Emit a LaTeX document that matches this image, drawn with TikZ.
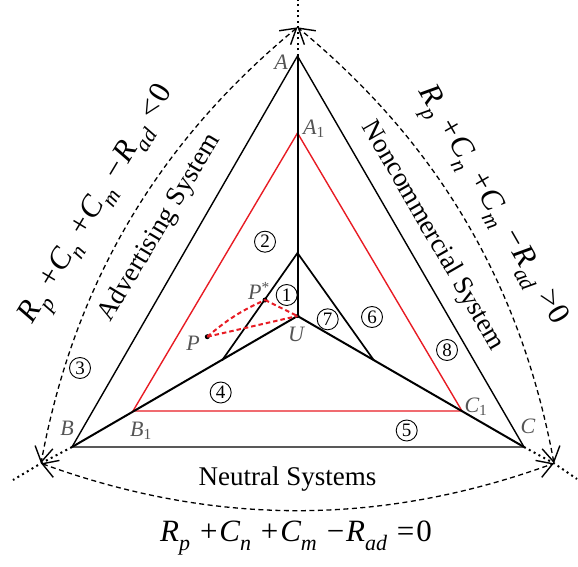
\documentclass[tikz,border=0pt]{standalone}
\usepackage{fontspec}
\setmainfont{Liberation Serif}
\usetikzlibrary{arrows.meta}
\definecolor{myred}{RGB}{232,28,36}
\definecolor{lab}{RGB}{85,85,85}
\newcommand\esub[1]{\raisebox{-0.3em}{\fontsize{22}{22}\selectfont\itshape #1}}
\newcommand\myeq[1]{{\itshape R}\esub{p}\hspace{0.32em}+\hspace{0.06em}{\itshape C}\esub{n}\hspace{0.32em}+\hspace{0.06em}{\itshape C}\esub{m}\hspace{0.32em}−\hspace{0.06em}{\itshape R}\esub{ad}\hspace{0.32em}#1\hspace{0.06em}0}
\tikzset{
 blk/.style={line width=1.4pt},
 thk/.style={line width=2pt},
 redl/.style={draw=myred, line width=1.4pt},
 reddash/.style={draw=myred, line width=2pt, dash pattern=on 4.5pt off 3pt},
 dotl/.style={line width=2pt, dash pattern=on 2pt off 3.5pt},
 barb/.tip={Straight Barb[length=15pt,width=18pt,line width=1.4pt]},
 arcd/.style={line width=1.3pt, dash pattern=on 5pt off 3.5pt, barb-barb},
 num/.style={circle, draw, line width=0.9pt, inner sep=0pt, minimum size=21pt, font=\fontsize{19}{19}\selectfont},
 vlab/.style={text=lab, inner sep=0pt, font=\fontsize{22}{22}\selectfont\itshape},
 sys/.style={font=\fontsize{27}{27}\selectfont},
 eqn/.style={font=\fontsize{31}{31}\selectfont},
 pdot/.style={circle, fill=black, inner sep=0pt, minimum size=5pt}
}
\begin{document}
\begin{tikzpicture}[x=1pt,y=-1pt]
\useasboundingbox (0,0) rectangle (578,567);
% points
\coordinate (A) at (297.5,56);
\coordinate (B) at (72,447);
\coordinate (C) at (524,447);
\coordinate (U) at (297.5,316);
\coordinate (A1) at (297.5,133);
\coordinate (B1) at (133,411);
\coordinate (C1) at (462,411);
\coordinate (T) at (297.5,253);
\coordinate (L) at (222,360.5);
\coordinate (R) at (374,360.5);
\coordinate (MA) at (297.5,27.3);
\coordinate (MB) at (41,463.3);
\coordinate (MC) at (554,463.3);
\coordinate (EA) at (297.5,0);
\coordinate (EB) at (13,480);
\coordinate (EC) at (577,479);
% triangles
\draw[blk] (A) -- (B) -- (C) -- cycle;
\draw[redl] (A1) -- (B1) -- (C1) -- cycle;
\draw[thk] (U) -- (A);
\draw[thk] (U) -- (B);
\draw[thk] (U) -- (C);
\draw[thk,line width=1.7pt] (L) -- (T) -- (R);
% dotted extensions
\draw[dotl] (A) -- (EA);
\draw[dotl] (B) -- (MB) -- (EB);
\draw[dotl] (C) -- (MC) -- (EC);
% arcs
\draw[arcd] (MA) to[bend right=20, looseness=0.92] (MB);
\draw[arcd] (MB) to[bend right=20, looseness=0.92] (MC);
\draw[arcd] (MC) to[bend right=20, looseness=0.92] (MA);
% P points
\node[pdot] (P) at (207.3,336.7) {};
\node[pdot] (Ps) at (265,300) {};
\node[pdot, minimum size=4pt] (Ud) at (297.5,316) {};
\draw[reddash] (P.center) to[bend left=8] (Ps.center);
\draw[reddash] (P.center) -- (Ud.center);
\draw[reddash] (Ps.center) -- (Ud.center);
% vertex labels
\node[vlab] (lA) at (281,62) {A};
\node[vlab] (lA1) at (314,129) {A\textsubscript{\upshape 1}};
\node[vlab] (lB) at (67,428) {B};
\node[vlab] (lB1) at (141,431) {B\textsubscript{\upshape 1}};
\node[vlab] (lC) at (528,426) {C};
\node[vlab] (lC1) at (476,407) {C\textsubscript{\upshape 1}};
\node[vlab] (lU) at (296,334) {U};
\node[vlab] (lP) at (193,343) {P};
\node[vlab] (lPs) at (259,291) {P\textsuperscript{\upshape *}};
% numbers
\node[num] (n1) at (286.7,295) {1};
\node[num] (n2) at (265,241.7) {2};
\node[num] (n3) at (80,368) {3};
\node[num] (n4) at (220.7,392.5) {4};
\node[num] (n5) at (406.7,430.5) {5};
\node[num] (n6) at (372,317) {6};
\node[num] (n7) at (327.7,319.3) {7};
\node[num] (n8) at (447,350) {8};
% system labels
\node[sys, rotate=59] (adv) at (160,228) {Advertising System};
\node[sys, rotate=-60] (nonc) at (432.5,236) {Noncommercial System};
\node[sys] (neu) at (287.5,479) {Neutral Systems};
% equations
\node[eqn, rotate=59] (eqL) at (100,206) {\myeq{<}};
\node[eqn, rotate=-60] (eqR) at (489.5,207) {\myeq{>}};
\node[eqn] (eqB) at (296,538) {\myeq{=}};
\end{tikzpicture}
\end{document}
